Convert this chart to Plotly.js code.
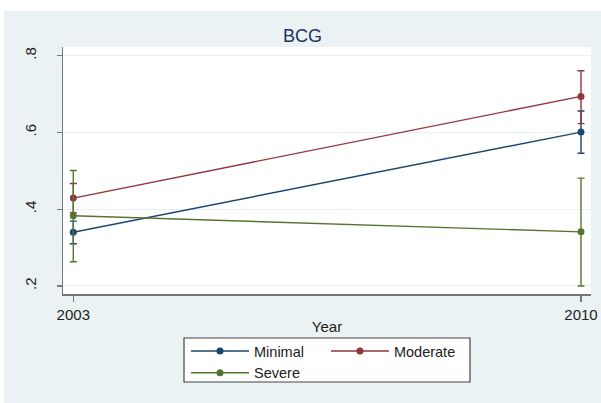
<!DOCTYPE html>
<html>
<head>
<meta charset="utf-8">
<script src="https://cdn.plot.ly/plotly-3.0.1.min.js"></script>
<style>html,body{margin:0;padding:0;background:#fff;} #chart{width:601px;height:403px;}</style>
</head>
<body>
<div id="chart"></div>
<script>
// ---- data ----
const years = [2003, 2010];
const seriesNames = ["Minimal", "Moderate", "Severe"];
const minimalMean = [0.340, 0.601];
const minimalLow  = [0.310, 0.546];
const minimalHigh = [0.369, 0.656];
const moderateMean = [0.429, 0.694];
const moderateLow  = [0.391, 0.623];
const moderateHigh = [0.467, 0.761];
const severeMean = [0.383, 0.341];
const severeLow  = [0.263, 0.200];
const severeHigh = [0.501, 0.481];
const yTickVals = [0.2, 0.4, 0.6, 0.8];
const yTickText = [".2", ".4", ".6", ".8"];
const xTickText = ["2003", "2010"];

const colors = ["#1a476f", "#90353b", "#55752f"];

function makeTrace(name, mean, low, high, color, legendId) {
  return {
    x: years, y: mean, name: name, type: "scatter", mode: "lines+markers",
    line: {color: color, width: 1.4},
    marker: {color: color, size: 7},
    error_y: {
      type: "data", symmetric: false,
      array: high.map((h, i) => h - mean[i]),
      arrayminus: mean.map((m, i) => m - low[i]),
      color: color, thickness: 1.4, width: 3.5
    },
    legend: legendId
  };
}

const traces = [
  makeTrace(seriesNames[0], minimalMean, minimalLow, minimalHigh, colors[0], "legend"),
  makeTrace(seriesNames[1], moderateMean, moderateLow, moderateHigh, colors[1], "legend2"),
  makeTrace(seriesNames[2], severeMean, severeLow, severeHigh, colors[2], "legend")
];

const legendFont = {family: "Liberation Sans, Arial, sans-serif", size: 14.5, color: "#222"};
const axisFont = {family: "Liberation Sans, Arial, sans-serif", size: 15, color: "#222"};

const layout = {
  width: 601, height: 403,
  margin: {l: 63, r: 10, t: 47, b: 109, pad: 0},
  paper_bgcolor: "#eaf2f3",
  plot_bgcolor: "#ffffff",
  font: {family: "Liberation Sans, Arial, sans-serif"},
  title: {
    text: "BCG", xref: "container", x: 0.5033, xanchor: "center",
    yref: "container", y: 1 - 35.7 / 403, yanchor: "middle",
    font: {family: "Liberation Sans, Arial, sans-serif", size: 18, color: "#1e3160"}
  },
  xaxis: {
    range: [2002.858, 2010.138], tickmode: "array", tickvals: years, ticktext: xTickText,
    showgrid: false, zeroline: false, showline: true, linecolor: "#777", linewidth: 1.5,
    ticks: "outside", ticklen: 6, tickwidth: 1.2, tickcolor: "#777",
    tickfont: axisFont,
    title: {text: "Year", font: axisFont, standoff: 0}
  },
  yaxis: {
    range: [0.179, 0.8227], tickmode: "array", tickvals: yTickVals, ticktext: yTickText,
    tickangle: -90, showgrid: true, gridcolor: "#e6eff1", gridwidth: 1,
    zeroline: false, showline: true, linecolor: "#777", linewidth: 1.5,
    ticks: "outside", ticklen: 5, tickwidth: 1.2, tickcolor: "#777",
    tickfont: axisFont, ticklabelstandoff: 15
  },
  showlegend: true,
  legend: {
    orientation: "v", x: 0.233, xanchor: "left", y: -0.166, yanchor: "top",
    bgcolor: "rgba(0,0,0,0)", borderwidth: 0, font: legendFont, itemwidth: 58,
    tracegroupgap: 0
  },
  legend2: {
    orientation: "v", x: 0.498, xanchor: "left", y: -0.166, yanchor: "top",
    bgcolor: "rgba(0,0,0,0)", borderwidth: 0, font: legendFont, itemwidth: 58
  },
  shapes: [
    {type: "rect", xref: "paper", yref: "paper", x0: -0.2, x1: 1.2, y0: 1.1457, y1: 1.3,
     fillcolor: "#ffffff", line: {width: 0}, layer: "below"},
    {type: "rect", xref: "paper", yref: "paper", x0: -0.2, x1: -0.1117, y0: -0.5, y1: 1.3,
     fillcolor: "#ffffff", line: {width: 0}, layer: "below"},
    {type: "rect", xref: "paper", yref: "paper", x0: 0.2292, x1: 0.7708, y0: -0.3563, y1: -0.1781,
     fillcolor: "#ffffff", line: {color: "#444", width: 1.2}, layer: "above"}
  ]
};

Plotly.newPlot("chart", traces, layout, {displayModeBar: false, staticPlot: true});
</script>
</body>
</html>
